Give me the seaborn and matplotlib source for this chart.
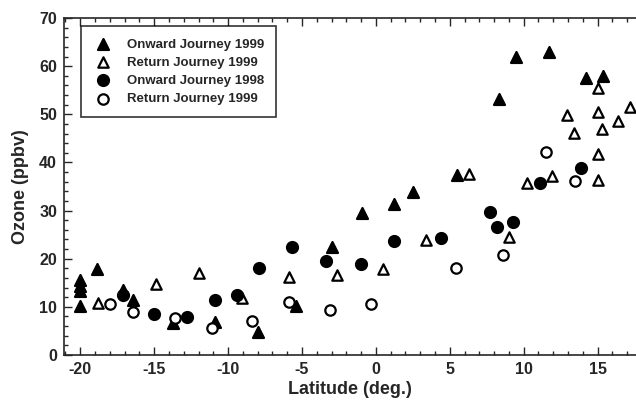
import numpy as np
import pandas as pd
import matplotlib
matplotlib.use('Agg')
import matplotlib.pyplot as plt
import seaborn as sns
from matplotlib.ticker import MultipleLocator

# ── Data ──────────────────────────────────────────────────────────────────
onward99_lat = [-20.0, -20.0, -20.0, -20.0, -18.9, -17.1, -16.4, -13.7, -10.9,
                -8.0, -5.4, -3.0, -0.95, 1.2, 2.5, 5.5, 8.3, 9.5, 11.7, 14.2, 15.4]
onward99_o3  = [15.6, 14.3, 13.3, 10.1, 17.9, 13.6, 11.4, 6.7, 6.9,
                4.8, 10.2, 22.5, 29.4, 31.3, 33.9, 37.4, 53.1, 61.9, 62.9, 57.6, 57.9]

return99_lat = [-18.8, -14.9, -12.0, -9.05, -5.9, -2.6, 0.5, 3.4, 6.3, 9.0, 10.2,
                11.9, 12.9, 13.4, 15.0, 15.0, 15.3, 16.4, 17.2, 15.0, 15.0]
return99_o3  = [10.8, 14.7, 17.0, 11.8, 16.2, 16.6, 17.8, 23.9, 37.7, 24.5, 35.7,
                37.2, 49.9, 46.1, 55.5, 50.5, 46.9, 48.6, 51.5, 41.8, 36.4]

onward98_lat = [-17.1, -15.0, -12.8, -10.9, -9.4, -7.9, -5.7, -3.4, -1.0, 1.2,
                4.4, 7.7, 8.2, 9.3, 11.1, 13.9]
onward98_o3  = [12.5, 8.5, 7.9, 11.4, 12.5, 18.1, 22.5, 19.5, 18.9, 23.7,
                24.4, 29.7, 26.6, 27.6, 35.7, 38.8]

return99c_lat = [-18.0, -16.4, -13.6, -11.1, -8.4, -5.9, -3.1, -0.3, 5.4, 8.6,
                 11.5, 13.5]
return99c_o3  = [10.6, 9.0, 7.6, 5.6, 7.1, 11.0, 9.3, 10.6, 18.0, 20.8,
                 42.2, 36.1]

labels = ['Onward Journey 1999', 'Return Journey 1999',
          'Onward Journey 1998', 'Return Journey 1999']

# ── Style ─────────────────────────────────────────────────────────────────
sns.set_style('ticks')
plt.rcParams['font.family'] = ['Liberation Sans', 'DejaVu Sans']
plt.rcParams['font.weight'] = 'bold'
plt.rcParams['axes.unicode_minus'] = False

fig = plt.figure(figsize=(6.36, 4.05), dpi=100)
ax = fig.add_axes([64/636, 50/405, 572/636, 337/405])

series = [
    (onward99_lat, onward99_o3, '^', 'black', labels[0], 62),
    (return99_lat, return99_o3, '^', 'white', labels[1], 56),
    (onward98_lat, onward98_o3, 'o', 'black', labels[2], 62),
    (return99c_lat, return99c_o3, 'o', 'white', labels[3], 56),
]
for lat, o3, mk, fc, lab, s in series:
    sns.scatterplot(x=lat, y=o3, marker=mk, color=fc, edgecolor='black',
                    linewidth=1.6, s=s, label=lab, ax=ax, zorder=3)

ax.set_xlim(-21.1, 17.6)
ax.set_ylim(0, 70)
ax.xaxis.set_major_locator(MultipleLocator(5))
ax.xaxis.set_minor_locator(MultipleLocator(1))
ax.yaxis.set_major_locator(MultipleLocator(10))
ax.yaxis.set_minor_locator(MultipleLocator(2))
ax.tick_params(which='both', direction='in', top=True, right=False,
               width=1, labelsize=11.5, pad=5)
ax.tick_params(which='major', length=6)
ax.tick_params(which='minor', length=3)
for lbl in ax.get_xticklabels() + ax.get_yticklabels():
    lbl.set_fontweight('bold')
ax.spines['right'].set_visible(False)
for sp in ['left', 'bottom', 'top']:
    ax.spines[sp].set_linewidth(1.2)

ax.set_xlabel('Latitude (deg.)', fontsize=13, fontweight='bold', labelpad=3)
ax.set_ylabel('Ozone (ppbv)', fontsize=13, fontweight='bold', labelpad=7)

leg = ax.legend(loc='upper left', bbox_to_anchor=(0.03, 0.975), frameon=True,
                fancybox=False, edgecolor='black',
                prop={'weight': 'bold', 'size': 9.5}, handletextpad=1.1,
                handlelength=1.5, borderpad=0.9, labelspacing=0.45,
                borderaxespad=0)
leg.get_frame().set_linewidth(1.2)

fig.savefig('out.png', dpi=100)
